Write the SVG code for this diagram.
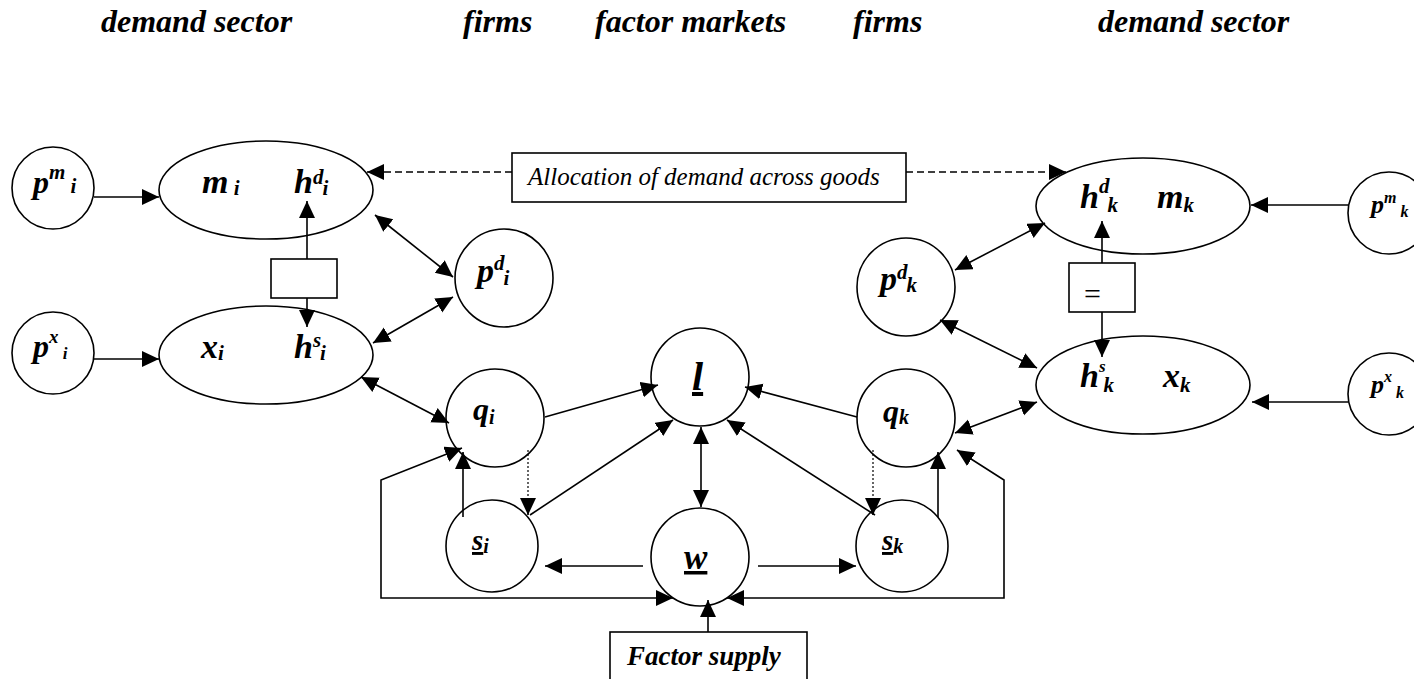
<svg xmlns="http://www.w3.org/2000/svg" width="1414" height="679" viewBox="0 0 1414 679">
<style>
.hd{font-family:"Liberation Serif","Times New Roman",serif;font-weight:bold;font-style:italic;font-size:32px;fill:#000}
.v{font-family:"Liberation Serif","Times New Roman",serif;font-weight:bold;font-style:italic;font-size:34px;fill:#000}
.s{font-size:21px}
.lbl{font-family:"Liberation Serif","Times New Roman",serif;font-style:italic;font-size:25px;fill:#000}
.nd{fill:#fff;stroke:#000;stroke-width:1.6}
.c{fill:none;stroke:#000;stroke-width:1.6}
.dash{stroke-dasharray:7 4}
.dot{stroke-dasharray:2 2;stroke-width:1.2}
</style>
<defs>
<marker id="a" markerUnits="userSpaceOnUse" markerWidth="18" markerHeight="18" refX="17" refY="8" orient="auto-start-reverse" viewBox="0 0 18 18">
<path d="M0,0 L17,8 L0,16 z" fill="#000"/>
</marker>
</defs>
<rect width="1414" height="679" fill="#fff"/>

<g id="headers">
<text class="hd" x="101" y="32">demand sector</text>
<text class="hd" x="463" y="32">firms</text>
<text class="hd" x="595" y="32">factor markets</text>
<text class="hd" x="853" y="32">firms</text>
<text class="hd" x="1098" y="32">demand sector</text>
</g>

<g id="pm_i">
<circle class="nd" cx="53" cy="188" r="41"/>
<text class="v" x="33" y="193" style="font-size:32px">p<tspan class="s" dy="-14">m</tspan><tspan class="s" dy="14"> i</tspan></text>
</g>
<g id="px_i">
<circle class="nd" cx="53" cy="353" r="41"/>
<text class="v" x="33" y="357" style="font-size:32px">p<tspan style="font-size:19px" dy="-14">x</tspan><tspan style="font-size:17px" dy="16"> i</tspan></text>
</g>
<g id="demand_i">
<ellipse class="nd" cx="266" cy="190" rx="107" ry="49"/>
<text class="v" x="202" y="193">m<tspan class="s" dy="2"> i</tspan></text>
<text class="v" x="294" y="193">h<tspan class="s" dy="-9">d</tspan><tspan class="s" dx="-1" dy="11">i</tspan></text>
</g>
<g id="supply_i">
<ellipse class="nd" cx="266" cy="355" rx="107" ry="49"/>
<text class="v" x="201" y="358">x<tspan class="s" dy="2">i</tspan></text>
<text class="v" x="294" y="358">h<tspan class="s" dy="-11">s</tspan><tspan class="s" dx="-1" dy="13">i</tspan></text>
</g>
<g id="eq_i">
<rect class="nd" x="271" y="259" width="66" height="39"/>
</g>
<g id="pd_i">
<circle class="nd" cx="504" cy="278" r="49"/>
<text class="v" x="477" y="282">p<tspan class="s" dy="-12">d</tspan><tspan class="s" dx="-1" dy="15">i</tspan></text>
</g>
<g id="allocation">
<rect class="nd" x="512" y="153" width="394" height="49"/>
<text class="lbl" x="528" y="185">Allocation of demand across goods</text>
</g>
<g id="q_i">
<circle class="nd" cx="495" cy="418" r="49"/>
<text class="v" x="473" y="420" style="font-size:32px">q<tspan style="font-size:20px" dy="4">i</tspan></text>
</g>
<g id="s_i">
<circle class="nd" cx="492" cy="546" r="46"/>
<text class="v" x="472" y="550" style="font-size:29px"><tspan text-decoration="underline">s</tspan><tspan style="font-size:20px" dy="3">i</tspan></text>
</g>
<g id="l">
<circle class="nd" cx="700" cy="377" r="49"/>
<text class="v" x="692" y="390" style="font-size:40px" text-decoration="underline">l</text>
</g>
<g id="w">
<circle class="nd" cx="700" cy="557" r="49"/>
<text class="v" x="684" y="569" style="font-size:35px" text-decoration="underline">w</text>
</g>
<g id="factor_supply">
<rect class="nd" x="610" y="632" width="197" height="60"/>
<text class="v" x="627" y="665" style="font-size:27px">Factor supply</text>
</g>
<g id="q_k">
<circle class="nd" cx="906" cy="418" r="49"/>
<text class="v" x="883" y="422" style="font-size:32px">q<tspan style="font-size:20px" dy="2">k</tspan></text>
</g>
<g id="s_k">
<circle class="nd" cx="902" cy="546" r="46"/>
<text class="v" x="882" y="550" style="font-size:29px"><tspan text-decoration="underline">s</tspan><tspan style="font-size:20px" dy="3">k</tspan></text>
</g>
<g id="pd_k">
<circle class="nd" cx="906" cy="287" r="49"/>
<text class="v" x="880" y="290">p<tspan class="s" dy="-11">d</tspan><tspan class="s" dx="-1" dy="13">k</tspan></text>
</g>
<g id="demand_k">
<ellipse class="nd" cx="1143" cy="206" rx="107" ry="48"/>
<text class="v" x="1080" y="208">h<tspan class="s" dy="-15">d</tspan><tspan class="s" dx="-2" dy="19">k</tspan></text>
<text class="v" x="1157" y="208">m<tspan class="s" dy="4">k</tspan></text>
</g>
<g id="eq_k">
<rect class="nd" x="1069" y="263" width="66" height="49"/>
<text x="1084" y="304" font-family="Liberation Serif, Times New Roman, serif" font-size="30">=</text>
</g>
<g id="supply_k">
<ellipse class="nd" cx="1143" cy="385" rx="107" ry="49"/>
<text class="v" x="1080" y="387">h<tspan style="font-size:17px" dy="-15">s</tspan><tspan class="s" dx="-2" dy="20">k</tspan></text>
<text class="v" x="1163" y="387">x<tspan class="s" dy="5">k</tspan></text>
</g>
<g id="pm_k">
<circle class="nd" cx="1389" cy="213" r="41"/>
<text class="v" x="1371" y="213" style="font-size:26px">p<tspan style="font-size:16px" dy="-10">m</tspan><tspan style="font-size:16px" dy="14"> k</tspan></text>
</g>
<g id="px_k">
<circle class="nd" cx="1389" cy="394" r="41"/>
<text class="v" x="1371" y="393" style="font-size:26px">p<tspan style="font-size:16px" dy="-11">x</tspan><tspan style="font-size:16px" dy="16"> k</tspan></text>
</g>

<g id="connectors">
<path class="c" d="M94,197 H159" marker-end="url(#a)"/>
<path class="c" d="M94,359 H159" marker-end="url(#a)"/>
<path class="c" d="M307,259 V201" marker-end="url(#a)"/>
<path class="c" d="M307,298 V327" marker-end="url(#a)"/>
<path class="c dash" d="M512,172 H367" marker-end="url(#a)"/>
<path class="c dash" d="M906,172 H1066" marker-end="url(#a)"/>
<path class="c" d="M375,215 L453,277" marker-start="url(#a)" marker-end="url(#a)"/>
<path class="c" d="M373,343 L453,297" marker-start="url(#a)" marker-end="url(#a)"/>
<path class="c" d="M361,377 L449,423" marker-start="url(#a)" marker-end="url(#a)"/>
<path class="c" d="M545,417 L658,385" marker-end="url(#a)"/>
<path class="c" d="M530,515 L673,420" marker-end="url(#a)"/>
<path class="c" d="M701,427 V507" marker-start="url(#a)" marker-end="url(#a)"/>
<path class="c" d="M857,417 L745,387" marker-end="url(#a)"/>
<path class="c" d="M875,515 L727,420" marker-end="url(#a)"/>
<path class="c" d="M643,566 H545" marker-end="url(#a)"/>
<path class="c" d="M758,566 H856" marker-end="url(#a)"/>
<path class="c" d="M463,517 V452" marker-end="url(#a)"/>
<path class="c" d="M938,517 V452" marker-end="url(#a)"/>
<path class="c dot" d="M528,450 V500"/>
<path class="c" d="M528,500 V515" marker-end="url(#a)"/>
<path class="c dot" d="M873,450 V500"/>
<path class="c" d="M873,500 V515" marker-end="url(#a)"/>
<path class="c" d="M462,448 L381,480 V598 H673" marker-start="url(#a)" marker-end="url(#a)"/>
<path class="c" d="M957,450 L1004,480 V598 H727" marker-start="url(#a)" marker-end="url(#a)"/>
<path class="c" d="M708,632 V600" marker-end="url(#a)"/>
<path class="c" d="M1045,223 L955,270" marker-start="url(#a)" marker-end="url(#a)"/>
<path class="c" d="M1037,368 L940,320" marker-start="url(#a)" marker-end="url(#a)"/>
<path class="c" d="M1037,402 L955,433" marker-start="url(#a)" marker-end="url(#a)"/>
<path class="c" d="M1348,205 H1251" marker-end="url(#a)"/>
<path class="c" d="M1348,402 H1252" marker-end="url(#a)"/>
<path class="c" d="M1102,263 V221" marker-end="url(#a)"/>
<path class="c" d="M1102,312 V357" marker-end="url(#a)"/>
</g>
</svg>
